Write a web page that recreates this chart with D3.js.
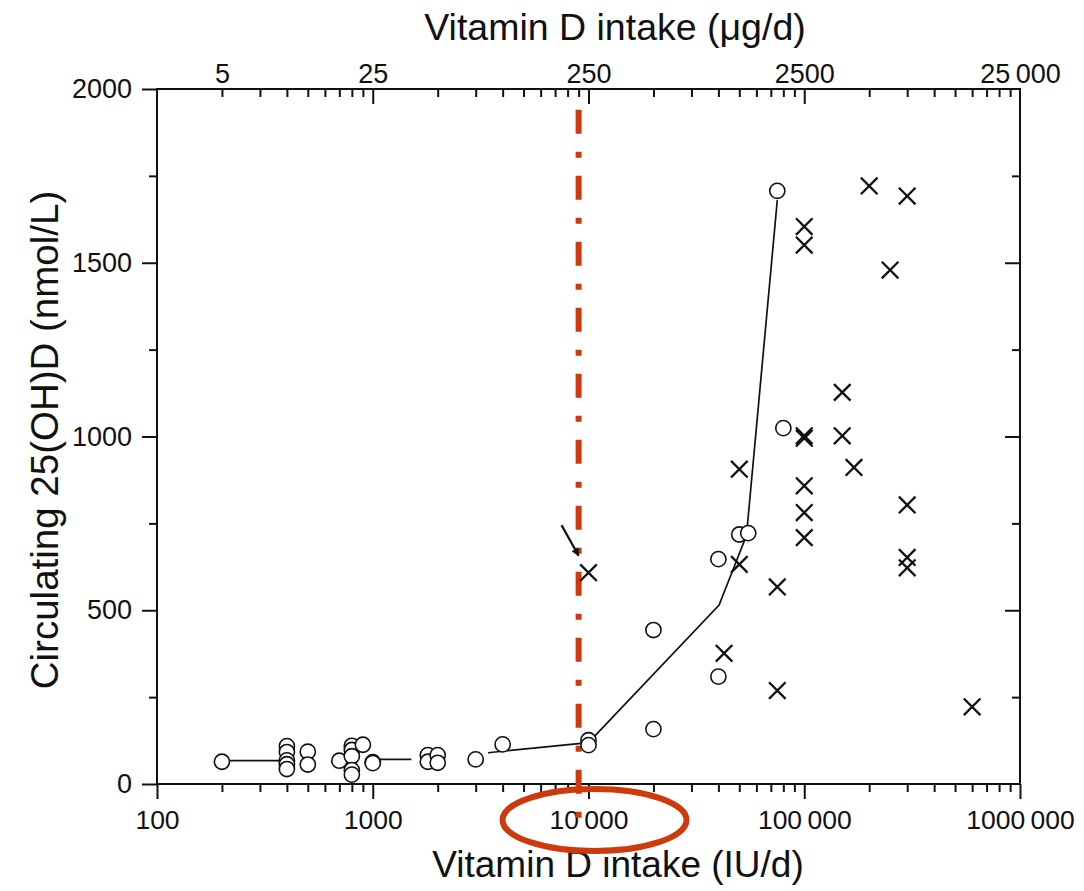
<!DOCTYPE html>
<html>
<head>
<meta charset="utf-8">
<script src="https://cdn.jsdelivr.net/npm/d3@7"></script>
<style>
html,body{margin:0;padding:0;background:#fff;}
svg{display:block;}
text{font-family:"Liberation Sans",Arial,Helvetica,sans-serif;fill:#111;}
</style>
</head>
<body>
<svg id="chart" width="1084" height="891"></svg>
<script>
// ---------------- data ----------------
// open circles: intake (IU/d) and circulating 25(OH)D (nmol/L)
const circleIU  = [200, 400,400,400,400,400, 500,500, 700, 800,800,800,800,800, 900, 1000,1000,
                   1800,1800, 2000,2000, 3000, 4000, 10000,10000, 20000,20000, 40000,40000,
                   50000,55000, 80000, 75000];
const circleVal = [64, 109,92,68,57,43, 93,56, 67, 110,98,80,40,27, 113, 63,60,
                   83,64, 83,61, 71, 114, 126,112, 443,158, 647,309,
                   718,722, 1024, 1707];
// crosses (x marks)
const crossIU  = [10000, 42500, 50000, 50000, 75000, 75000,
                  100000,100000,100000,100000,100000,100000,100000,
                  150000,150000, 170000, 200000, 250000,
                  300000,300000,300000,300000, 600000];
const crossVal = [608, 376, 632, 906, 567, 269,
                  1604,1551,1002,995,858,781,709,
                  1127,1002, 911, 1721, 1479,
                  1692,803,652,622, 222];
// trend line pieces
const trendLines = [
  [[200,67],[400,67]],
  [[1000,71],[1510,71]],
  [[3420,90],[10000,119],[40300,515],[54000,716],[75000,1680]]
];
// annotation arrow (from, to) in data units
const arrowFrom = [7500, 745];
const arrowTo   = [9000, 657];
// reference line (IU) and its vertical extent (nmol/L)
const refIU = 9000;
const refExtent = [1940, -98];

// axis ticks
const xMajorTicks  = [100, 1000, 10000, 100000, 1000000];
const xTickLabels  = ["100", "1000", "10\u2009000", "100\u2009000", "1000\u2009000"];
const topTicksUg   = [5, 25, 250, 2500, 25000];
const topTickLabels= ["5", "25", "250", "2500", "25\u2009000"];
const IU_PER_UG = 40;
const yMajorTicks  = [0, 500, 1000, 1500, 2000];
const yMinorTicks  = [250, 750, 1250, 1750];

// ---------------- layout ----------------
const L = 157, R = 1020, T = 89, B = 784;
const svg = d3.select("#chart");

const x = d3.scaleLog().domain([100, 1000000]).range([L, R]);
const y = d3.scaleLinear().domain([0, 2000]).range([B, T]);

const allLogTicks = x.ticks().filter(v => v > 100 && v < 1000000);
const xMinor = allLogTicks.filter(v => !xMajorTicks.includes(v));
const xInnerMajor = xMajorTicks.filter(v => v > 100 && v < 1000000);

function styleAxis(g){
  g.select(".domain").remove();
  g.selectAll("line").attr("stroke","#111").attr("stroke-width",2);
  g.selectAll("text").style("font-family",'"Liberation Sans",Arial,sans-serif').attr("fill","#111");
}

// bottom axis: minor ticks
svg.append("g").attr("transform",`translate(0,${B})`)
  .call(d3.axisBottom(x).tickValues(xMinor).tickSize(8).tickFormat(""))
  .call(styleAxis);
// bottom axis: major ticks + labels
svg.append("g").attr("transform",`translate(0,${B})`)
  .call(d3.axisBottom(x).tickValues(xMajorTicks).tickSize(15).tickPadding(11)
        .tickFormat((d,i)=>xTickLabels[i]))
  .call(styleAxis)
  .call(g=>g.selectAll("text").style("font-size","26.5px"));

// top axis: inward ticks (same positions)
svg.append("g").attr("transform",`translate(0,${T})`)
  .call(d3.axisTop(x).tickValues(xMinor).tickSize(-8).tickFormat(""))
  .call(styleAxis);
svg.append("g").attr("transform",`translate(0,${T})`)
  .call(d3.axisTop(x).tickValues(xInnerMajor).tickSize(-15).tickFormat(""))
  .call(styleAxis);
// top labels (µg/d)
svg.append("g").attr("transform",`translate(0,${T})`)
  .call(d3.axisTop(x).tickValues(topTicksUg.map(u=>u*IU_PER_UG)).tickSize(0).tickPadding(6)
        .tickFormat((d,i)=>topTickLabels[i]))
  .call(styleAxis)
  .call(g=>g.selectAll("line").remove())
  .call(g=>g.selectAll("text").style("font-size","27px"));

// left axis (outward)
svg.append("g").attr("transform",`translate(${L},0)`)
  .call(d3.axisLeft(y).tickValues(yMinorTicks).tickSize(8).tickFormat(""))
  .call(styleAxis);
svg.append("g").attr("transform",`translate(${L},0)`)
  .call(d3.axisLeft(y).tickValues(yMajorTicks).tickSize(15).tickPadding(10).tickFormat(d3.format("d")))
  .call(styleAxis)
  .call(g=>g.selectAll("text").style("font-size","27px"));
// right axis (inward)
svg.append("g").attr("transform",`translate(${R},0)`)
  .call(d3.axisRight(y).tickValues(yMinorTicks).tickSize(-8).tickFormat(""))
  .call(styleAxis);
svg.append("g").attr("transform",`translate(${R},0)`)
  .call(d3.axisRight(y).tickValues(yMajorTicks.filter(v=>v>0&&v<2000)).tickSize(-15).tickFormat(""))
  .call(styleAxis);

// frame
svg.append("rect").attr("x",L).attr("y",T).attr("width",R-L).attr("height",B-T)
  .attr("fill","none").attr("stroke","#111").attr("stroke-width",2);

// axis titles
svg.append("text").attr("x",615).attr("y",40).attr("text-anchor","middle")
  .style("font-size","37.5px").text("Vitamin D intake (\u03bcg/d)");
svg.append("text").attr("x",618).attr("y",877).attr("text-anchor","middle")
  .style("font-size","37px").text("Vitamin D intake (IU/d)");
svg.append("text").attr("transform",`translate(58,440) rotate(-90)`).attr("text-anchor","middle")
  .style("font-size","38.5px").text("Circulating 25(OH)D (nmol/L)");

// red reference line
svg.append("line")
  .attr("x1",x(refIU)).attr("x2",x(refIU))
  .attr("y1",y(refExtent[0])).attr("y2",y(refExtent[1]))
  .attr("stroke","#cc3a0e").attr("stroke-width",6)
  .attr("stroke-dasharray","24,18,6,18");

// red ellipse around the 10 000 label
svg.append("ellipse").attr("cx",x(10000)+6).attr("cy",B+36).attr("rx",92).attr("ry",31)
  .attr("fill","none").attr("stroke","#cc3a0e").attr("stroke-width",6);

// trend line
const lineGen = d3.line().x(d=>x(d[0])).y(d=>y(d[1]));
svg.append("g").selectAll("path").data(trendLines).join("path")
  .attr("d",lineGen).attr("fill","none").attr("stroke","#111").attr("stroke-width",1.7);

// circles
const circleData = circleIU.map((v,i)=>({iu:v,val:circleVal[i]}));
svg.append("g").selectAll("circle").data(circleData).join("circle")
  .attr("cx",d=>x(d.iu)).attr("cy",d=>y(d.val)).attr("r",7.6)
  .attr("fill","#fff").attr("stroke","#111").attr("stroke-width",1.6);

// crosses
const crossData = crossIU.map((v,i)=>({iu:v,val:crossVal[i]}));
const s = 8.3;
svg.append("g").selectAll("path").data(crossData).join("path")
  .attr("d",d=>{const cx=x(d.iu), cy=y(d.val);
    return `M${cx-s},${cy-s}L${cx+s},${cy+s}M${cx-s},${cy+s}L${cx+s},${cy-s}`;})
  .attr("fill","none").attr("stroke","#111").attr("stroke-width",2.3);

// arrow
const defs = svg.append("defs");
defs.append("marker").attr("id","ah").attr("viewBox","0 0 10 10").attr("refX",9).attr("refY",5)
  .attr("markerWidth",13).attr("markerHeight",8).attr("markerUnits","userSpaceOnUse").attr("orient","auto")
  .append("path").attr("d","M0,0L10,5L0,10Z").attr("fill","#111");
svg.append("line")
  .attr("x1",x(arrowFrom[0])).attr("y1",y(arrowFrom[1]))
  .attr("x2",x(arrowTo[0])).attr("y2",y(arrowTo[1]))
  .attr("stroke","#111").attr("stroke-width",2.2).attr("marker-end","url(#ah)");
</script>
</body>
</html>
